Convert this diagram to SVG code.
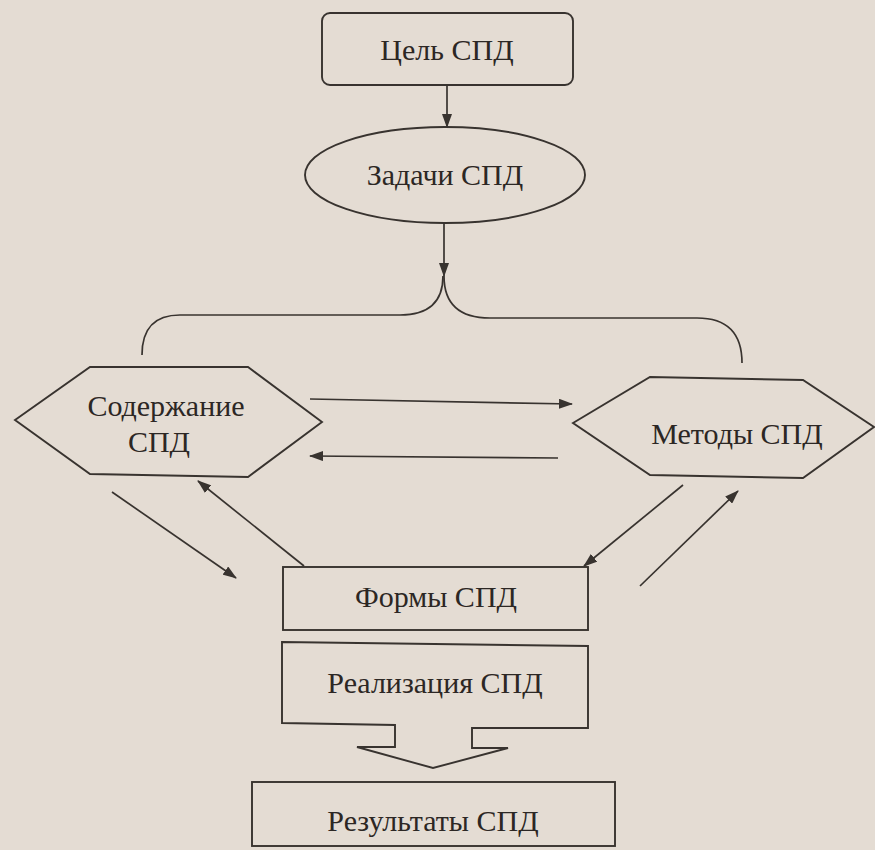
<svg xmlns="http://www.w3.org/2000/svg" width="875" height="850" viewBox="0 0 875 850">
<style>
.shape{fill:none;stroke:#38332f;stroke-width:1.9;stroke-linejoin:miter}
.conn{fill:none;stroke:#38332f;stroke-width:1.7}
.lbl{font-family:"Liberation Serif","DejaVu Serif",serif;font-size:30px;fill:#2c2724;text-anchor:middle}
</style>
<defs>
<marker id="ah" markerUnits="userSpaceOnUse" markerWidth="14" markerHeight="10" refX="13" refY="5" orient="auto">
<path d="M0,0 L14,5 L0,10 Z" fill="#38332f"/>
</marker>
</defs>
<rect x="0" y="0" width="875" height="850" fill="#e4dcd3"/>

<g id="goal">
<rect class="shape" x="322" y="13" width="251" height="72" rx="8"/>
<text class="lbl" x="447" y="60">Цель СПД</text>
</g>

<g id="tasks">
<ellipse class="shape" cx="445" cy="175" rx="140" ry="48"/>
<text class="lbl" x="445" y="185">Задачи СПД</text>
</g>

<g id="content">
<polygon class="shape" points="15,420 90,367 248,367 322,422 248,477 90,474"/>
<text class="lbl" x="166" y="416">Содержание</text>
<text class="lbl" x="159" y="452">СПД</text>
</g>

<g id="methods">
<polygon class="shape" points="573,423 650,377 803,380 874,427 803,478 650,475"/>
<text class="lbl" x="737" y="444">Методы СПД</text>
</g>

<g id="forms">
<rect class="shape" x="283" y="567" width="305" height="63"/>
<text class="lbl" x="436" y="607">Формы СПД</text>
</g>

<g id="realization">
<polygon class="shape" points="282,642 588,646 588,728 472,728 472,748 508,748 433,768 357,747 395,747 395,725 282,723"/>
<text class="lbl" x="435" y="693">Реализация СПД</text>
</g>

<g id="results">
<rect class="shape" x="252" y="782" width="363" height="64"/>
<text class="lbl" x="433" y="831">Результаты СПД</text>
</g>

<g id="connectors">
<line class="conn" x1="447" y1="85" x2="447" y2="127" marker-end="url(#ah)"/>
<line class="conn" x1="444" y1="223" x2="444" y2="276" marker-end="url(#ah)"/>
<path class="conn" d="M443,276 Q443,315 400,315 L180,315 Q142,315 142,355"/>
<path class="conn" d="M444,276 Q444,318 490,318 L697,318 Q742,318 742,363"/>
<line class="conn" x1="310" y1="399" x2="572" y2="404" marker-end="url(#ah)"/>
<line class="conn" x1="558" y1="458" x2="310" y2="456" marker-end="url(#ah)"/>
<line class="conn" x1="112" y1="492" x2="236" y2="578" marker-end="url(#ah)"/>
<line class="conn" x1="304" y1="566" x2="198" y2="481" marker-end="url(#ah)"/>
<line class="conn" x1="683" y1="485" x2="584" y2="566" marker-end="url(#ah)"/>
<line class="conn" x1="640" y1="586" x2="738" y2="491" marker-end="url(#ah)"/>
</g>
</svg>
